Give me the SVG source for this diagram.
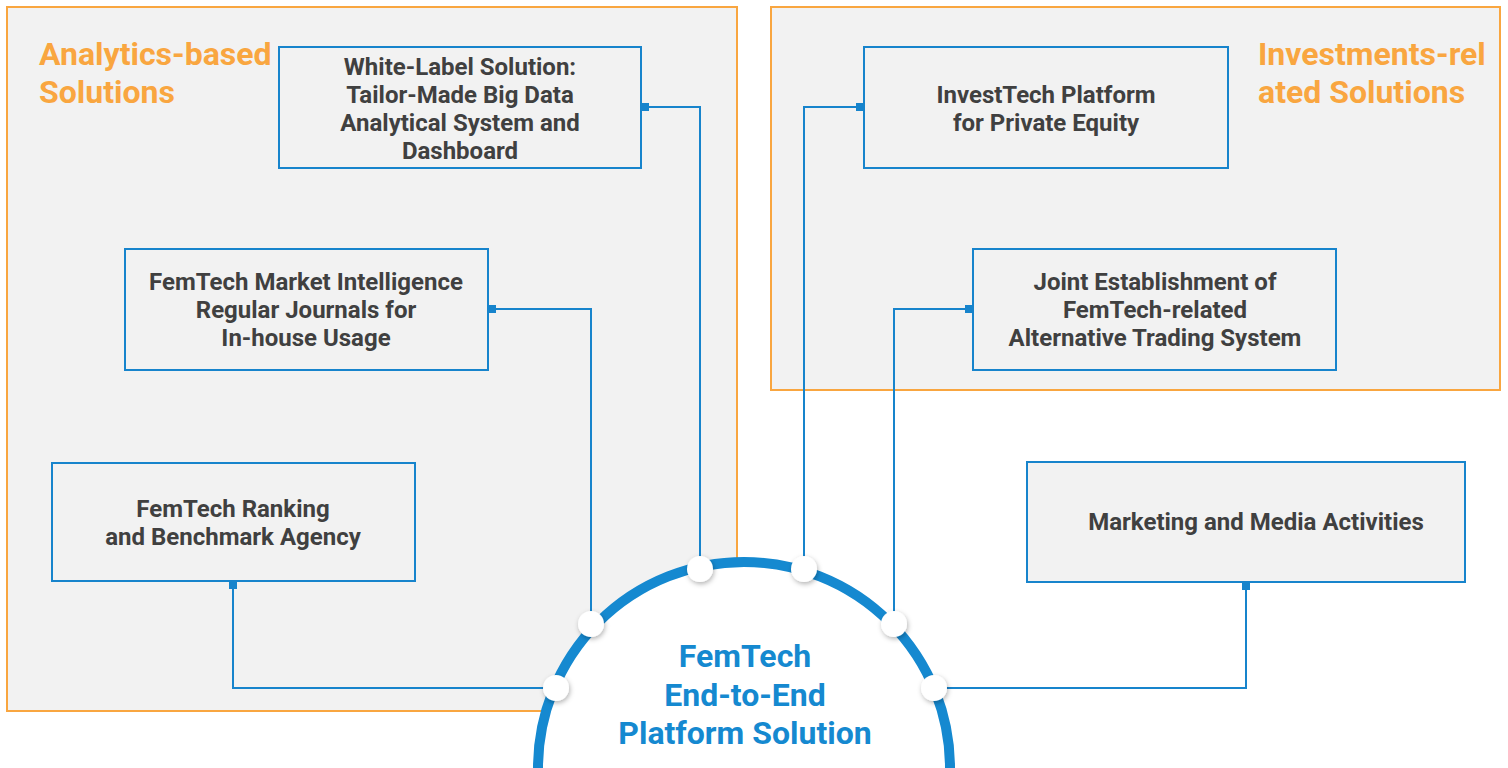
<svg xmlns="http://www.w3.org/2000/svg" width="1508" height="768" viewBox="0 0 1508 768">
<style>
.grp{fill:#F2F2F2;stroke:#F9A640;stroke-width:2}
.gtitle{font-family:Roboto,"Liberation Sans",sans-serif;font-weight:700;font-size:32px;fill:#F9A640}
.box{fill:#F2F2F2;stroke:#1784CC;stroke-width:2}
.btxt{font-family:Roboto,"Liberation Sans",sans-serif;font-weight:700;font-size:24px;fill:#404040;text-anchor:middle}
.conn{fill:none;stroke:#1784CC;stroke-width:2}
.dot{fill:#FFFFFF;filter:url(#sh)}
.ctxt{font-family:Roboto,"Liberation Sans",sans-serif;font-weight:700;font-size:32px;fill:#1589D0;text-anchor:middle}
</style>
<defs>
<marker id="sq" viewBox="0 -4 8 8" markerWidth="8" markerHeight="8" refX="0" refY="0" orient="auto" markerUnits="userSpaceOnUse">
<rect x="0" y="-4" width="8" height="8" fill="#1784CC"/>
</marker>
<filter id="sh" x="-50%" y="-50%" width="200%" height="200%">
<feDropShadow dx="1" dy="2" stdDeviation="2.5" flood-color="#000" flood-opacity="0.3"/>
</filter>
</defs>
<rect width="1508" height="768" fill="#FFFFFF"/>
<g id="group-analytics">
<rect class="grp" x="7" y="7" width="730" height="704"/>
<text class="gtitle" x="39" y="65">Analytics-based</text>
<text class="gtitle" x="39" y="103">Solutions</text>
</g>
<g id="group-investments">
<rect class="grp" x="771" y="7" width="729" height="383"/>
<text class="gtitle" x="1258" y="65">Investments-rel</text>
<text class="gtitle" x="1258" y="103">ated Solutions</text>
</g>
<g id="connectors">
<path class="conn" marker-start="url(#sq)" d="M641,107 H700 V569"/>
<path class="conn" marker-start="url(#sq)" d="M488,309 H591 V624"/>
<path class="conn" marker-start="url(#sq)" d="M233,581 V688 H556"/>
<path class="conn" marker-start="url(#sq)" d="M864,107 H804 V569"/>
<path class="conn" marker-start="url(#sq)" d="M973,309 H894 V624"/>
<path class="conn" marker-start="url(#sq)" d="M1246,582 V688 H934"/>
</g>
<g id="node-whitelabel">
<rect class="box" x="279" y="47" width="362" height="121"/>
<text class="btxt" x="460" y="75">White-Label Solution:</text>
<text class="btxt" x="460" y="103">Tailor-Made Big Data</text>
<text class="btxt" x="460" y="131">Analytical System and</text>
<text class="btxt" x="460" y="159">Dashboard</text>
</g>
<g id="node-marketintel">
<rect class="box" x="125" y="249" width="363" height="121"/>
<text class="btxt" x="306" y="290">FemTech Market Intelligence</text>
<text class="btxt" x="306" y="318">Regular Journals for</text>
<text class="btxt" x="306" y="346">In-house Usage</text>
</g>
<g id="node-ranking">
<rect class="box" x="52" y="463" width="363" height="118"/>
<text class="btxt" x="233" y="517">FemTech Ranking</text>
<text class="btxt" x="233" y="545">and Benchmark Agency</text>
</g>
<g id="node-investtech">
<rect class="box" x="864" y="47" width="364" height="121"/>
<text class="btxt" x="1046" y="103">InvestTech Platform</text>
<text class="btxt" x="1046" y="131">for Private Equity</text>
</g>
<g id="node-ats">
<rect class="box" x="973" y="249" width="363" height="121"/>
<text class="btxt" x="1155" y="290">Joint Establishment of</text>
<text class="btxt" x="1155" y="318">FemTech-related</text>
<text class="btxt" x="1155" y="346">Alternative Trading System</text>
</g>
<g id="node-marketing">
<rect class="box" x="1027" y="462" width="438" height="120"/>
<text class="btxt" x="1256" y="530">Marketing and Media Activities</text>
</g>
<g id="node-platform">
<path d="M538,768 A206,206 0 0 1 950,768 Z" fill="#FFFFFF"/>
<path d="M538,768 A206,206 0 0 1 950,768" fill="none" stroke="#1589D0" stroke-width="10"/>
<circle class="dot" cx="700" cy="569" r="13"/>
<circle class="dot" cx="804" cy="569" r="13"/>
<circle class="dot" cx="591" cy="624" r="13"/>
<circle class="dot" cx="894" cy="624" r="13"/>
<circle class="dot" cx="556" cy="688" r="13"/>
<circle class="dot" cx="934" cy="688" r="13"/>
<text class="ctxt" x="745" y="667">FemTech</text>
<text class="ctxt" x="745" y="706">End-to-End</text>
<text class="ctxt" x="745" y="744">Platform Solution</text>
</g>
</svg>
